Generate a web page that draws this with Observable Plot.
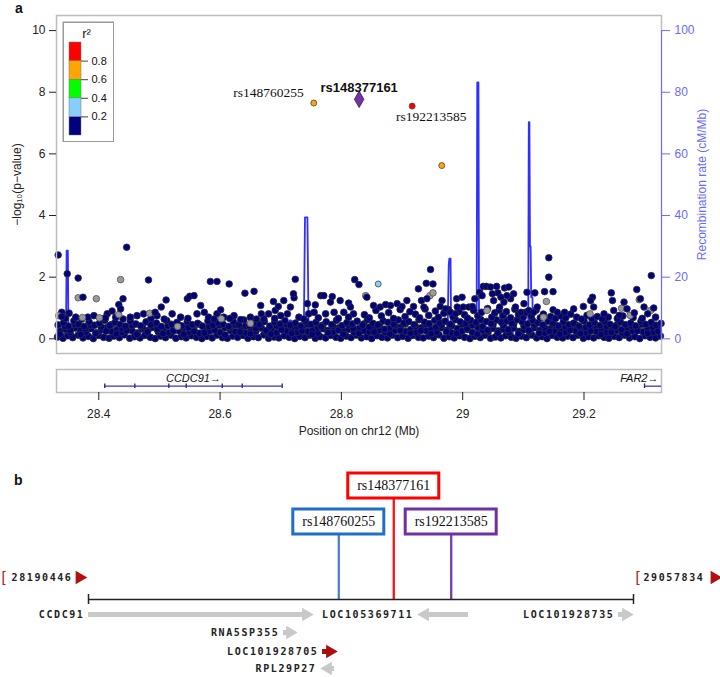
<!DOCTYPE html>
<html><head><meta charset="utf-8">
<script src="https://cdn.jsdelivr.net/npm/d3@7"></script>
<script src="https://cdn.jsdelivr.net/npm/@observablehq/plot@0.6"></script>
<style>
body{margin:0;background:#fff;}
#wrap{position:relative;width:720px;height:677px;overflow:hidden;background:#fff;font-family:"Liberation Sans",Arial,sans-serif;}
.plab{position:absolute;font-weight:bold;font-size:14px;color:#111;line-height:1;}
</style></head><body><div id="wrap"><div class="plab" style="left:15px;top:1px">a</div><div class="plab" style="left:14px;top:473px">b</div></div>
<script>
// ---------- DATA (panel a) ----------
// SNP positions in kb on chr12 (hg19) and -log10(p)
const bandLow = [[28332,.06],[28341,.02],[28349,.10],[28357,.04],[28366,.12],[28374,.03],[28383,.08],[28391,.01],[28400,.11],[28408,.05],[28417,.02],[28425,.09],[28434,.04],[28442,.13],[28451,.02],[28459,.07],[28468,.03],[28476,.11],[28485,.05],[28493,.01],[28502,.09],[28510,.04],[28519,.12],[28527,.02],[28536,.07],[28544,.03],[28553,.10],[28561,.05],[28570,.01],[28578,.08],[28587,.03],[28595,.12],[28604,.04],[28612,.02],[28621,.09],[28629,.05],[28638,.11],[28646,.02],[28655,.07],[28663,.04],[28672,.13],[28680,.02],[28689,.06],[28697,.03],[28706,.10],[28714,.05],[28723,.01],[28731,.08],[28740,.04],[28748,.12],[28757,.02],[28765,.07],[28774,.03],[28782,.11],[28791,.05],[28799,.02],[28808,.09],[28816,.04],[28825,.12],[28833,.03],[28842,.07],[28850,.01],[28859,.10],[28867,.05],[28876,.03],[28884,.12],[28893,.04],[28901,.08],[28910,.02],[28918,.11],[28927,.05],[28935,.03],[28944,.09],[28952,.04],[28961,.13],[28969,.02],[28978,.07],[28986,.03],[28995,.10],[29003,.05],[29012,.01],[29020,.08],[29029,.04],[29037,.12],[29046,.02],[29054,.06],[29063,.03],[29071,.10],[29080,.05],[29088,.02],[29097,.09],[29105,.04],[29114,.12],[29122,.03],[29131,.07],[29139,.01],[29148,.11],[29156,.05],[29165,.03],[29173,.09],[29182,.04],[29190,.12],[29199,.02],[29207,.07],[29216,.03],[29224,.10],[29233,.05],[29241,.02],[29250,.08],[29258,.04],[29267,.12],[29275,.03],[29284,.07],[29292,.01],[29301,.10],[29309,.05],[29318,.03],[29326,.09]];
const bandMid = [[28336,.25],[28345,.31],[28353,.20],[28362,.35],[28370,.27],[28379,.22],[28387,.33],[28396,.19],[28404,.29],[28413,.36],[28421,.24],[28430,.30],[28438,.21],[28447,.34],[28455,.26],[28464,.19],[28472,.32],[28481,.27],[28489,.37],[28498,.23],[28506,.30],[28515,.20],[28523,.33],[28532,.26],[28540,.36],[28549,.22],[28557,.29],[28566,.18],[28574,.34],[28583,.25],[28591,.31],[28600,.21],[28608,.36],[28617,.27],[28625,.23],[28634,.33],[28642,.19],[28651,.30],[28659,.25],[28668,.35],[28676,.22],[28685,.28],[28693,.20],[28702,.34],[28710,.26],[28719,.31],[28727,.21],[28736,.37],[28744,.24],[28753,.30],[28761,.19],[28770,.33],[28778,.27],[28787,.22],[28795,.35],[28804,.25],[28812,.31],[28821,.20],[28829,.34],[28838,.26],[28846,.23],[28855,.36],[28863,.28],[28872,.21],[28880,.33],[28889,.27],[28897,.37],[28906,.24],[28914,.30],[28923,.20],[28931,.35],[28940,.26],[28948,.31],[28957,.22],[28965,.36],[28974,.28],[28982,.19],[28991,.33],[28999,.25],[29008,.30],[29016,.21],[29025,.37],[29033,.27],[29042,.23],[29050,.34],[29059,.26],[29067,.31],[29076,.20],[29084,.35],[29093,.24],[29101,.29],[29110,.22],[29118,.36],[29127,.27],[29135,.19],[29144,.32],[29152,.25],[29161,.30],[29169,.21],[29178,.34],[29186,.26],[29195,.31],[29203,.20],[29212,.35],[29220,.24],[29229,.29],[29237,.22],[29246,.33],[29254,.27],[29263,.19],[29271,.32],[29280,.25],[29288,.36],[29297,.23],[29305,.30],[29314,.21],[29322,.34]];
const bandFill = [[28336,.15],[28344,.40],[28353,.28],[28361,.47],[28370,.14],[28378,.33],[28387,.44],[28395,.18],[28404,.38],[28412,.25],[28421,.46],[28429,.16],[28438,.35],[28446,.27],[28455,.43],[28463,.14],[28472,.39],[28480,.22],[28489,.48],[28497,.30],[28506,.17],[28514,.42],[28523,.26],[28531,.45],[28540,.15],[28548,.36],[28557,.24],[28565,.47],[28574,.19],[28582,.40],[28591,.28],[28599,.44],[28608,.13],[28616,.37],[28625,.45],[28633,.22],[28642,.41],[28650,.16],[28659,.34],[28667,.48],[28676,.27],[28684,.15],[28693,.42],[28701,.29],[28710,.46],[28718,.18],[28727,.39],[28735,.25],[28744,.47],[28752,.14],[28761,.36],[28769,.44],[28778,.20],[28786,.41],[28795,.28],[28803,.15],[28812,.45],[28820,.33],[28829,.17],[28837,.48],[28846,.38],[28854,.22],[28863,.46],[28871,.31],[28880,.15],[28888,.43],[28897,.27],[28905,.48],[28914,.18],[28922,.40],[28931,.26],[28939,.47],[28948,.16],[28956,.38],[28965,.45],[28973,.23],[28982,.42],[28990,.17],[28999,.47],[29007,.33],[29016,.44],[29024,.15],[29033,.40],[29041,.28],[29050,.46],[29058,.19],[29067,.43],[29075,.30],[29084,.48],[29092,.16],[29101,.41],[29109,.27],[29118,.45],[29126,.18],[29135,.36],[29143,.24],[29152,.44],[29160,.15],[29169,.39],[29177,.28],[29186,.46],[29194,.17],[29203,.37],[29211,.25],[29220,.43],[29228,.14],[29237,.40],[29245,.21],[29254,.45],[29262,.30],[29271,.16],[29279,.42],[29288,.26],[29296,.47],[29305,.18],[29313,.38],[29322,.24]];
const bandHigh = [[28333,.45],[28342,.52],[28350,.41],[28359,.58],[28367,.47],[28376,.40],[28384,.55],[28393,.44],[28401,.50],[28410,.60],[28418,.43],[28427,.53],[28435,.46],[28444,.41],[28452,.57],[28461,.48],[28469,.42],[28478,.55],[28486,.45],[28495,.51],[28503,.40],[28512,.59],[28520,.47],[28529,.53],[28537,.42],[28546,.56],[28554,.46],[28563,.50],[28571,.41],[28580,.58],[28588,.44],[28597,.52],[28605,.47],[28614,.40],[28622,.55],[28631,.45],[28639,.61],[28648,.43],[28656,.50],[28665,.46],[28673,.56],[28682,.41],[28690,.53],[28699,.48],[28707,.59],[28716,.44],[28724,.51],[28733,.42],[28741,.57],[28750,.47],[28758,.53],[28767,.40],[28775,.55],[28784,.46],[28792,.60],[28801,.43],[28809,.52],[28818,.48],[28826,.57],[28835,.44],[28843,.62],[28852,.50],[28860,.45],[28869,.58],[28877,.53],[28886,.47],[28894,.61],[28903,.51],[28911,.56],[28920,.46],[28928,.62],[28937,.54],[28945,.49],[28954,.60],[28962,.52],[28971,.57],[28979,.47],[28988,.62],[28996,.55],[29005,.50],[29013,.60],[29022,.53],[29030,.62],[29039,.56],[29047,.49],[29056,.61],[29064,.54],[29073,.58],[29081,.50],[29090,.62],[29098,.55],[29107,.48],[29115,.60],[29124,.52],[29132,.45],[29141,.57],[29149,.49],[29158,.42],[29166,.55],[29175,.46],[29183,.51],[29192,.41],[29200,.58],[29209,.45],[29217,.52],[29226,.43],[29234,.56],[29243,.47],[29251,.40],[29260,.54],[29268,.46],[29277,.51],[29285,.42],[29294,.57],[29302,.47],[29311,.53],[29319,.44],[29327,.50]];
const bandUpper = [[28339,.86],[28351,.83],[28362,.70],[28382,.70],[28392,.75],[28403,.65],[28414,.81],[28428,.70],[28452,.70],[28463,.75],[28474,.81],[28496,.75],[28521,.81],[28535,.70],[28562,.81],[28581,.70],[28595,.81],[28606,.70],[28623,.75],[28634,.62],[28650,.70],[28672,.65],[28680,.81],[28700,.75],[28711,.81],[28730,.70],[28746,.81],[28755,.86],[28774,.81],[28788,.86],[28804,.86],[28820,.81],[28345,.66],[28372,.64],[28411,.68],[28440,.64],[28486,.66],[28508,.64],[28547,.66],[28590,.64],[28616,.66],[28660,.64],[28690,.66],[28738,.64],[28762,.68],[28795,.66],[28812,.70],
 [28838,.78],[28846,.68],[28857,.92],[28866,.74],[28878,.85],[28886,.66],[28897,.95],[28905,.72],[28913,.88],[28922,.80],[28929,.68],[28938,.97],[28944,.76],[28955,.90],[28960,.70],[28969,.83],[28976,.95],[28984,.72],[28994,.88],[29003,.78],[29008,.67],[29018,.92],[29025,.74],[29031,.86],[29041,.98],[29048,.70],[29053,.84],[29060,.93],[29066,.75],[29072,.88],[29079,.68],[29086,.96],[29092,.79],[29100,.70],[29104,.86],[29113,.74],[29121,.93],[29128,.68],[29133,.80],[29145,.72],[29153,.66],[29162,.74],[29170,.68],[29178,.80],[29188,.70],[29196,.64],[29205,.76],[29213,.66],[29222,.72],[29230,.64],[29240,.70],[29255,.66],[29264,.74],[29281,.69],[29296,.66],[29318,.70]];
const snpNavy = [[28333,2.72],[28348,2.11],[28366,1.97],[28339,.72],[28374,1.35],[28446,2.97],[28440,1.30],[28433,1.11],[28436,.97],[28422,.90],[28482,1.91],[28503,1.03],[28511,1.26],[28493,.86],[28546,1.30],[28550,1.38],[28557,1.40],[28568,1.08],[28574,.86],[28584,1.86],[28595,1.86],[28601,.94],[28615,1.78],[28641,1.48],[28656,1.54],[28667,1.08],[28668,.81],[28688,1.21],[28691,.92],[28696,1.05],[28705,1.24],[28716,1.03],[28722,1.33],[28724,1.93],[28721,1.46],[28744,1.14],[28757,1.10],[28766,1.40],[28771,1.40],[28785,1.37],[28782,1.19],[28798,1.24],[28812,1.16],[28822,1.92],[28829,1.76],[28815,1.03],
 [28842,1.35],[28927,1.62],[28947,2.25],[28940,1.80],[28951,1.78],[28966,1.24],[28990,1.30],[28999,1.35],[28991,1.03],[29001,1.03],[29010,1.03],[29016,1.05],[29028,1.51],[29034,1.70],[29039,1.70],[29046,1.68],[29056,1.70],[29058,1.49],[29069,1.65],[29076,1.68],[29084,1.46],[29079,1.30],[29073,1.40],[29061,1.03],[29068,1.19],[29106,1.51],[29119,1.49],[29101,1.14],[29142,2.63],[29142,2.00],[29135,1.53],[29149,1.53],[29149,.94],[29214,1.35],[29245,1.49],[29247,1.24],[29266,1.19],[29287,1.60],[29293,1.30],[29311,2.05],[29315,1.00],
 [29156,.86],[29168,.86],[29183,.97],[29199,1.05],[29211,1.24],[29216,1.03],[29233,.81],[29249,.92],[29258,.76],[29271,.97],[29283,.84],[29299,1.03],[29305,.81],[28853,1.08],[28864,1.03],[28873,1.11],[28881,1.08],[28892,1.14],[28900,1.05],[28908,1.24],[28919,1.05],[28932,1.24],[28941,1.30],[28936,1.03],[28963,1.05],[28972,.97],[28980,.86],[28988,.81],[29020,1.30],[29032,1.40],[29049,1.46],[29051,1.24],[29063,1.35],[29087,1.03],[29096,.86],[29109,.92],[29117,.86],[29123,1.03]];
const snpGrey = [[28334,.75],[28366,1.33],[28396,1.30],[28436,1.92],[28433,.79],[28484,.83],[28602,.65],[28373,.69],[28401,.68],[28650,.50],[28840,1.40],[28946,1.40],[28951,1.49],[29040,.92],[29138,1.21],[29210,.81],[29262,.99],[29276,.76],[29291,1.27],[29310,.92],[29133,.70],[28530,.40]];
// highlighted SNPs
const hiNames = ["rs148760255","rs148377161","rs192213585"];
const hiKb = [28754.5, 28829.3, 28916.7];
const hiLogP = [7.65, 7.77, 7.55];
const hiClass = ["o","lead","r"];
const otherHi = [[28965.5,5.62,"o"],[28860.7,1.78,"lb"]];
// recombination rate [kb, cM/Mb]
const recomb = [[28330,1.5],[28340,1.2],[28346,2],[28347,28.6],[28349,28.6],[28350,1.5],[28400,0.8],[28500,0.5],[28600,0.6],[28700,1.2],[28714,2],[28715,6],[28717,6],[28718,1],[28738,1],[28740,39.4],[28744,39.4],[28746,1.5],[28800,0.8],[28900,0.8],[28975,1],[28977,24],[28978,26],[28980,26],[28981,1],[29023,1],[29024,83.2],[29026,83.2],[29027,1],[29070,1],[29071,9],[29073,1],[29081,7],[29083,1],[29108,1],[29109,70.3],[29110,70.3],[29111,30],[29112,30],[29113,13.5],[29115,13.5],[29116,1],[29143,1],[29145,5],[29147,1],[29200,0.5],[29328,0.5]];
const yTicks = [0,2,4,6,8,10];
const xTicks = [28.4,28.6,28.8,29,29.2];
const legendTicks = [0.2,0.4,0.6,0.8];
const legendEdges = [0,0.2,0.4,0.6,0.8,1];
// gene track (Mb)
const ccdc91Span = [28.4099, 28.7024];
const ccdc91Exons = [28.4099,28.4594,28.5155,28.5442,28.6036,28.6365,28.7024];
const far2Start = 29.2998;
// ---------- DATA (panel b) ----------
const regionBp = [28190446, 29057834];
const snpBp = [28588800, 28676300, 28767700];
const geneNames = ["CCDC91","LOC105369711","LOC101928735","RNA5SP355","LOC101928705","RPL29P27"];
const geneStart = [28190446, 28714050, 29033950, 28500790, 28562860, 28559680];
const geneEnd   = [28548536, 28795220, 29057834, 28523070, 28586730, 28581960];
const geneStrand = [1,-1,1,1,1,-1];

// ---------- BUILD ----------
const fam = '"Liberation Sans", Arial, sans-serif';
const wrap = document.getElementById("wrap");
function place(el, left, top){ el.style.position="absolute"; el.style.left=left+"px"; el.style.top=top+"px"; wrap.appendChild(el); }
const X0 = 28.3303, X1 = 29.3278;
const fillOf = {n:"#000080", g:"#9a9a9a", lb:"#87CEFA", gr:"#00FF00", o:"#FFA500", r:"#FF0000", lead:"#7133a6"};
const toPts = (arr, c) => arr.map(([k,v]) => ({x:k/1000, y:v, c}));
const band = [...toPts(bandLow,"n"), ...toPts(bandMid,"n"), ...toPts(bandFill,"n"), ...toPts(bandHigh,"n"), ...toPts(bandUpper,"n")];
const greys = toPts(snpGrey,"g");
const navy = toPts(snpNavy,"n");
const hi = hiNames.map((n,i)=>({name:n, x:hiKb[i]/1000, y:hiLogP[i], c:hiClass[i]}));
const other = otherHi.map(([k,v,c])=>({x:k/1000,y:v,c}));
const blueAx = "#6a6aff";

const main = Plot.plot({
  width:720, height:360, marginLeft:56, marginRight:59, marginTop:15, marginBottom:7,
  x:{domain:[X0,X1], axis:null},
  y:{domain:[-0.477,10.49]},
  style:{fontFamily:fam, fontSize:"12px", background:"transparent", overflow:"visible"},
  marks:[
    Plot.line(recomb, {x:d=>d[0]/1000, y:d=>d[1]/10, stroke:"#2f2fff", strokeWidth:1.8}),
    Plot.dot(band, {x:"x", y:"y", r:3.4, fill:d=>fillOf[d.c], stroke:"#2e2e2e", strokeWidth:0.8}),
    Plot.dot(greys, {x:"x", y:"y", r:3.3, fill:d=>fillOf[d.c], stroke:"#555", strokeWidth:0.8}),
    Plot.dot(navy, {x:"x", y:"y", r:3.3, fill:d=>fillOf[d.c], stroke:"#2e2e2e", strokeWidth:0.8}),
    Plot.dot(other, {x:"x", y:"y", r:3, fill:d=>fillOf[d.c], stroke:"#444", strokeWidth:0.8}),
    Plot.dot(hi.filter(d=>d.c!=="lead"), {x:"x", y:"y", r:3, fill:d=>fillOf[d.c], stroke:"#444", strokeWidth:0.8}),
    Plot.dot(hi.filter(d=>d.c==="lead"), {x:"x", y:"y", r:5, symbol:"diamond", fill:fillOf.lead, stroke:"#3a1a5a", strokeWidth:0.8}),
    Plot.frame({stroke:"#bdbdbd", strokeWidth:1.5}),
    Plot.axisY({ticks:yTicks, tickSize:7, tickPadding:4, color:"#222", label:"−log₁₀(p−value)", labelAnchor:"center", labelArrow:"none", labelOffset:44}),
    Plot.ruleX([X1], {y1:0, y2:10, stroke:blueAx, strokeWidth:1}),
    Plot.axisY({anchor:"right", ticks:yTicks, tickFormat:d=>String(d*10), tickSize:8, tickPadding:5, color:blueAx, label:"Recombination rate (cM/Mb)", labelAnchor:"center", labelArrow:"none", labelOffset:44}),
    Plot.text(hi.filter(d=>d.c==="lead"), {x:"x", y:"y", text:"name", dy:-12, fontWeight:"bold", fontSize:13, fill:"#111"}),
    Plot.text(hi.filter(d=>d.name==="rs148760255"), {x:"x", y:"y", text:"name", textAnchor:"end", dx:-10, dy:-10, fontFamily:'"Liberation Serif", serif', fontSize:13.5, fill:"#111"}),
    Plot.text(hi.filter(d=>d.name==="rs192213585"), {x:"x", y:"y", text:"name", dx:19, dy:11, fontFamily:'"Liberation Serif", serif', fontSize:13.5, fill:"#111"})
  ]
});
place(main, 0, 0);

const bins = legendEdges.slice(0,-1).map((lo,i)=>({lo, hi:legendEdges[i+1], color:["#000080","#87CEFA","#00FF00","#FFA500","#FF0000"][i]}));
const legend = Plot.plot({
  width:52, height:121, margin:0,
  x:{type:"identity", axis:null}, y:{domain:[0,1], range:[114,21], axis:null},
  style:{fontFamily:fam, fontSize:"11px", background:"white"},
  marks:[
    Plot.frame({stroke:"#9a9a9a", strokeWidth:1.5, inset:0.75}),
    Plot.rect(bins, {x1:7, x2:19, y1:"lo", y2:"hi", fill:"color", stroke:"#777", strokeWidth:0.5}),
    Plot.ruleY(legendTicks, {x1:19, x2:26, stroke:"#444"}),
    Plot.text(legendTicks, {x:29, y:d=>d, text:d=>String(d), textAnchor:"start", fill:"#111"}),
    Plot.text(["r²"], {x:24, y:1, dy:-9, fontSize:13, fill:"#111"})
  ]
});
place(legend, 62, 21);

const geneY = 0.274, textY = 0.61;
const track = Plot.plot({
  width:720, height:85, marginLeft:56, marginRight:59, marginTop:9, marginBottom:53,
  x:{domain:[X0,X1]}, y:{domain:[0,1], axis:null},
  style:{fontFamily:fam, fontSize:"12px", background:"transparent", overflow:"visible"},
  marks:[
    Plot.frame({stroke:"#bdbdbd", strokeWidth:1.5}),
    Plot.ruleY([geneY], {x1:ccdc91Span[0], x2:ccdc91Span[1], stroke:"#3b3ba8", strokeWidth:1.3}),
    Plot.ruleX(ccdc91Exons, {x:d=>d, y1:geneY-0.1, y2:geneY+0.1, stroke:"#2a2a90", strokeWidth:1.4}),
    Plot.text(["CCDC91"], {x:(ccdc91Span[0]+ccdc91Span[1])/2, y:textY, text:d=>d+"→", fontStyle:"italic", fontSize:11, fill:"#111"}),
    Plot.ruleY([geneY], {x1:far2Start, x2:X1, stroke:"#3b3ba8", strokeWidth:1.3}),
    Plot.ruleX([far2Start], {y1:geneY-0.1, y2:geneY+0.1, stroke:"#2a2a90", strokeWidth:1.4}),
    Plot.text(["FAR2"], {x:X1, y:textY, text:d=>d+"→", textAnchor:"end", dx:-3, fontStyle:"italic", fontSize:11, fill:"#111"}),
    Plot.axisX({ticks:xTicks, tickFormat:d=>String(d), tickSize:8, tickPadding:9, color:"#222", label:"Position on chr12 (Mb)", labelAnchor:"center", labelArrow:"none", labelOffset:42})
  ]
});
place(track, 0, 360);

// panel b
const boxColor = {"rs148760255":"#1f6fc8", "rs148377161":"#ff0000", "rs192213585":"#7030a0"};
const lineColor = {"rs148760255":"#4a7fd0", "rs148377161":"#ff1010", "rs192213585":"#7a3aa8"};
const snpsB = hiNames.map((n,i)=>({name:n, pos:snpBp[i], top: n==="rs148377161" ? 13 : 49}));
const genes = geneNames.map((n,i)=>({name:n, start:geneStart[i], end:geneEnd[i], strand:geneStrand[i]}));
const rowOf = {"CCDC91":0,"LOC105369711":0,"LOC101928735":0,"RNA5SP355":1,"LOC101928705":2,"RPL29P27":3};
const rowY = [154,172,191,208];
const gCol = d => d.name==="LOC101928705" ? "#a80f0f" : "#c9c9c9";
const plus = genes.filter(d=>d.strand>0), minus = genes.filter(d=>d.strand<0);
const mono = '"DejaVu Sans Mono", monospace';
const axY = 139;
const pb = Plot.plot({
  width:720, height:217, marginLeft:88, marginRight:87, marginTop:0, marginBottom:0,
  x:{domain:regionBp, axis:null}, y:{type:"identity", axis:null},
  style:{fontFamily:fam, background:"transparent", overflow:"visible"},
  marks:[
    Plot.ruleX(snpsB, {x:"pos", y1:d=>d.top+25, y2:axY, stroke:d=>lineColor[d.name], strokeWidth:2.3}),
    Plot.rect(snpsB, {x1:"pos", x2:"pos", y1:"top", y2:d=>d.top+25, insetLeft:-45.5, insetRight:-45.5, fill:"white", stroke:d=>boxColor[d.name], strokeWidth:3}),
    Plot.text(snpsB, {x:"pos", y:d=>d.top+12.5, text:"name", fontFamily:'"Liberation Serif", serif', fontSize:14, fill:"#111"}),
    Plot.ruleY([axY], {x1:regionBp[0], x2:regionBp[1], stroke:"#222", strokeWidth:1.5}),
    Plot.ruleX(regionBp, {x:d=>d, y1:axY-5, y2:axY+5, stroke:"#222", strokeWidth:1.5}),
    Plot.text([regionBp[0]], {x:d=>d, y:117, text:d=>String(d), textAnchor:"end", dx:-16, fontFamily:mono, fontWeight:"bold", fontSize:10, fill:"#222"}),
    Plot.text([regionBp[1]], {x:d=>d, y:117, text:d=>String(d), textAnchor:"start", dx:10, fontFamily:mono, fontWeight:"bold", fontSize:10, fill:"#222"}),
    Plot.text([regionBp[0]], {x:d=>d, y:117, text:()=>"[", dx:-85, fontSize:15, fill:"#b02020"}),
    Plot.text([regionBp[1]], {x:d=>d, y:117, text:()=>"[", dx:4, fontSize:15, fill:"#b02020"}),
    Plot.dot([regionBp[0]], {x:d=>d, y:117, symbol:"triangle", rotate:90, r:5, dx:-9, fill:"#b01010"}),
    Plot.dot([regionBp[1]], {x:d=>d, y:117, symbol:"triangle", rotate:90, r:5, dx:81, fill:"#b01010"}),
    Plot.ruleY(plus, {x1:"start", x2:"end", y:d=>rowY[rowOf[d.name]], stroke:gCol, strokeWidth:5, insetRight:8}),
    Plot.ruleY(minus, {x1:"start", x2:"end", y:d=>rowY[rowOf[d.name]], stroke:gCol, strokeWidth:5, insetLeft:8}),
    Plot.dot(plus, {x:"end", y:d=>rowY[rowOf[d.name]], symbol:"triangle", rotate:90, r:5, dx:-7.5, fill:gCol}),
    Plot.dot(minus, {x:"start", y:d=>rowY[rowOf[d.name]], symbol:"triangle", rotate:-90, r:5, dx:7.5, fill:gCol}),
    Plot.text(genes, {x:"start", y:d=>rowY[rowOf[d.name]], text:"name", textAnchor:"end", dx:-4, fontFamily:mono, fontWeight:"bold", fontSize:10, fill:"#222"})
  ]
});
d3.select(pb).selectAll("g[font-family*='DejaVu'] text").style("letter-spacing","1.6px");
place(pb, 0, 460);
</script></body></html>
